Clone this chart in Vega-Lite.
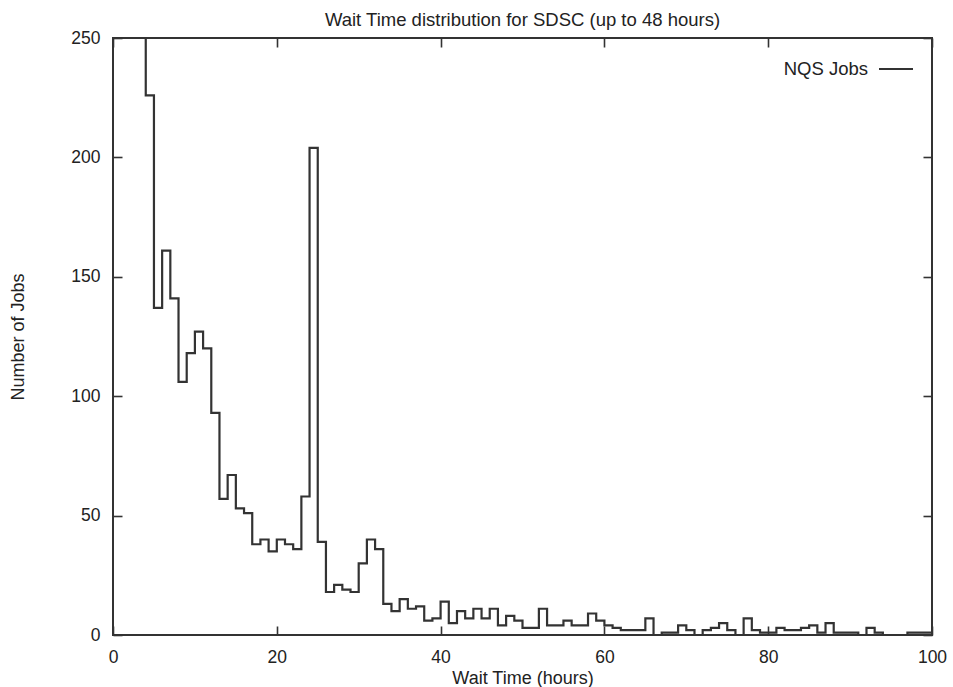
{
  "$schema": "https://vega.github.io/schema/vega-lite/v6.json",
  "width": 819,
  "height": 597,
  "autosize": {"type": "none"},
  "padding": {"left": 113, "top": 38, "right": 21, "bottom": 52},
  "background": "white",
  "title": {
    "text": "Wait Time distribution for SDSC (up to 48 hours)",
    "font": "Liberation Sans",
    "fontSize": 18.5,
    "fontWeight": "normal",
    "color": "#222",
    "anchor": "middle",
    "offset": 0
  },
  "data": {
    "values": [
      {"hour": 0, "jobs": 1400}, {"hour": 1, "jobs": 520}, {"hour": 2, "jobs": 380}, {"hour": 3, "jobs": 290},
      {"hour": 4, "jobs": 226}, {"hour": 5, "jobs": 137}, {"hour": 6, "jobs": 161}, {"hour": 7, "jobs": 141},
      {"hour": 8, "jobs": 106}, {"hour": 9, "jobs": 118}, {"hour": 10, "jobs": 127}, {"hour": 11, "jobs": 120},
      {"hour": 12, "jobs": 93}, {"hour": 13, "jobs": 57}, {"hour": 14, "jobs": 67}, {"hour": 15, "jobs": 53},
      {"hour": 16, "jobs": 51}, {"hour": 17, "jobs": 38}, {"hour": 18, "jobs": 40}, {"hour": 19, "jobs": 35},
      {"hour": 20, "jobs": 40}, {"hour": 21, "jobs": 38}, {"hour": 22, "jobs": 36}, {"hour": 23, "jobs": 58},
      {"hour": 24, "jobs": 204}, {"hour": 25, "jobs": 39}, {"hour": 26, "jobs": 18}, {"hour": 27, "jobs": 21},
      {"hour": 28, "jobs": 19}, {"hour": 29, "jobs": 18}, {"hour": 30, "jobs": 30}, {"hour": 31, "jobs": 40},
      {"hour": 32, "jobs": 36}, {"hour": 33, "jobs": 13}, {"hour": 34, "jobs": 10}, {"hour": 35, "jobs": 15},
      {"hour": 36, "jobs": 11}, {"hour": 37, "jobs": 12}, {"hour": 38, "jobs": 6}, {"hour": 39, "jobs": 7},
      {"hour": 40, "jobs": 14}, {"hour": 41, "jobs": 5}, {"hour": 42, "jobs": 10}, {"hour": 43, "jobs": 7},
      {"hour": 44, "jobs": 11}, {"hour": 45, "jobs": 7}, {"hour": 46, "jobs": 11}, {"hour": 47, "jobs": 4},
      {"hour": 48, "jobs": 8}, {"hour": 49, "jobs": 6}, {"hour": 50, "jobs": 3}, {"hour": 51, "jobs": 3},
      {"hour": 52, "jobs": 11}, {"hour": 53, "jobs": 4}, {"hour": 54, "jobs": 4}, {"hour": 55, "jobs": 6},
      {"hour": 56, "jobs": 4}, {"hour": 57, "jobs": 4}, {"hour": 58, "jobs": 9}, {"hour": 59, "jobs": 6},
      {"hour": 60, "jobs": 4}, {"hour": 61, "jobs": 3}, {"hour": 62, "jobs": 2}, {"hour": 63, "jobs": 2},
      {"hour": 64, "jobs": 2}, {"hour": 65, "jobs": 7}, {"hour": 66, "jobs": 0}, {"hour": 67, "jobs": 1},
      {"hour": 68, "jobs": 1}, {"hour": 69, "jobs": 4}, {"hour": 70, "jobs": 2}, {"hour": 71, "jobs": 0},
      {"hour": 72, "jobs": 2}, {"hour": 73, "jobs": 3}, {"hour": 74, "jobs": 5}, {"hour": 75, "jobs": 2},
      {"hour": 76, "jobs": 0}, {"hour": 77, "jobs": 7}, {"hour": 78, "jobs": 2}, {"hour": 79, "jobs": 1},
      {"hour": 80, "jobs": 1}, {"hour": 81, "jobs": 3}, {"hour": 82, "jobs": 2}, {"hour": 83, "jobs": 2},
      {"hour": 84, "jobs": 3}, {"hour": 85, "jobs": 4}, {"hour": 86, "jobs": 1}, {"hour": 87, "jobs": 5},
      {"hour": 88, "jobs": 1}, {"hour": 89, "jobs": 1}, {"hour": 90, "jobs": 1}, {"hour": 91, "jobs": 0},
      {"hour": 92, "jobs": 3}, {"hour": 93, "jobs": 1}, {"hour": 94, "jobs": 0}, {"hour": 95, "jobs": 0},
      {"hour": 96, "jobs": 0}, {"hour": 97, "jobs": 1}, {"hour": 98, "jobs": 1}, {"hour": 99, "jobs": 1},
      {"hour": 100, "jobs": 1}
    ]
  },
  "layer": [
    {
      "mark": {"type": "line", "interpolate": "step-after", "clip": true, "strokeWidth": 2.2},
      "encoding": {
        "x": {
          "field": "hour",
          "type": "quantitative",
          "scale": {"domain": [0, 100], "nice": false, "zero": false},
          "axis": {
            "orient": "bottom",
            "values": [0, 20, 40, 60, 80, 100],
            "title": "Wait Time (hours)",
            "tickSize": -9,
            "labelPadding": 22,
            "labelFlush": false,
            "titlePadding": 4
          }
        },
        "y": {
          "field": "jobs",
          "type": "quantitative",
          "scale": {"domain": [0, 250], "nice": false},
          "axis": {
            "orient": "left",
            "values": [0, 50, 100, 150, 200, 250],
            "title": "Number of Jobs",
            "tickSize": -9,
            "labelPadding": 22,
            "titlePadding": 43
          }
        },
        "color": {
          "datum": "NQS Jobs",
          "type": "nominal",
          "scale": {"range": ["#333333"]},
          "legend": {
            "title": null,
            "orient": "none",
            "legendX": 765,
            "legendY": 13,
            "padding": 0,
            "symbolType": "stroke",
            "symbolSize": 1156,
            "symbolStrokeWidth": 2,
            "labelAlign": "right",
            "labelOffset": -46,
            "labelFont": "Liberation Sans",
            "labelFontSize": 18.5,
            "labelColor": "#222"
          }
        }
      }
    },
    {
      "mark": {"type": "point", "opacity": 0, "clip": true},
      "encoding": {
        "x": {
          "field": "hour",
          "type": "quantitative",
          "axis": {"orient": "top", "values": [0, 20, 40, 60, 80, 100], "labels": false, "title": null, "tickSize": -9}
        },
        "y": {
          "field": "jobs",
          "type": "quantitative",
          "axis": {"orient": "right", "values": [0, 50, 100, 150, 200, 250], "labels": false, "title": null, "tickSize": -9}
        }
      }
    }
  ],
  "resolve": {"axis": {"x": "independent", "y": "independent"}},
  "config": {
    "view": {"stroke": "#333333", "strokeWidth": 2},
    "axis": {
      "domain": false,
      "grid": false,
      "tickColor": "#333333",
      "tickWidth": 1.6,
      "labelFont": "Liberation Sans",
      "labelFontSize": 17.5,
      "labelColor": "#222",
      "titleFont": "Liberation Sans",
      "titleFontSize": 18,
      "titleFontWeight": "normal",
      "titleColor": "#222"
    }
  }
}
